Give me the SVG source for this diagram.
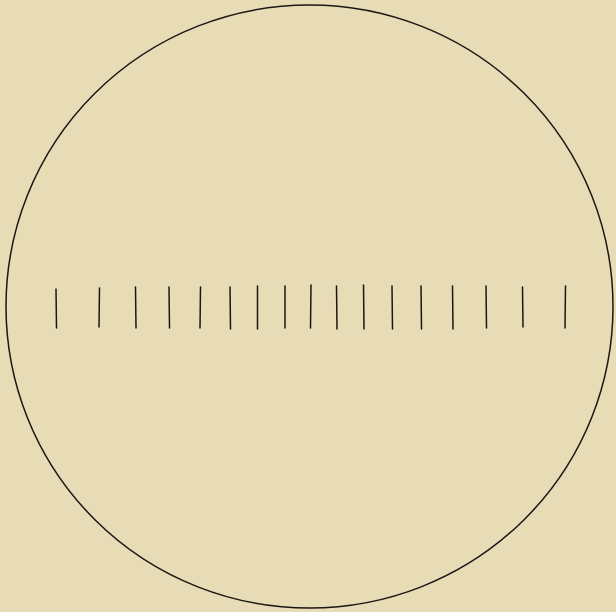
<svg xmlns="http://www.w3.org/2000/svg" width="616" height="612" viewBox="0 0 616 612">
<style>
.t{stroke:#1a1714;stroke-width:1.5;stroke-linecap:round;fill:none}
</style>
<rect width="616" height="612" fill="#e8dcb6"/>
<ellipse cx="309.5" cy="306.5" rx="303.5" ry="301.5" fill="none" stroke="#1a1714" stroke-width="1.5"/>
<g id="ticks">
<line class="t" x1="56" y1="289" x2="56.5" y2="328"/>
<line class="t" x1="99.5" y1="288" x2="99" y2="327"/>
<line class="t" x1="135.5" y1="287" x2="136" y2="328"/>
<line class="t" x1="169" y1="287" x2="169.5" y2="328"/>
<line class="t" x1="200.5" y1="287" x2="200" y2="328"/>
<line class="t" x1="230" y1="287" x2="230.5" y2="329"/>
<line class="t" x1="257.5" y1="286" x2="257.5" y2="329"/>
<line class="t" x1="285" y1="286" x2="285" y2="328"/>
<line class="t" x1="311" y1="285" x2="310.5" y2="328"/>
<line class="t" x1="336.5" y1="286" x2="337" y2="329"/>
<line class="t" x1="363.5" y1="285" x2="364" y2="329"/>
<line class="t" x1="392" y1="286" x2="392.5" y2="329"/>
<line class="t" x1="421" y1="286" x2="421.5" y2="329"/>
<line class="t" x1="452.5" y1="286" x2="453" y2="329"/>
<line class="t" x1="486" y1="286" x2="486.5" y2="328"/>
<line class="t" x1="522.5" y1="287" x2="523" y2="327"/>
<line class="t" x1="565.5" y1="286" x2="565" y2="328"/>
</g>
</svg>
